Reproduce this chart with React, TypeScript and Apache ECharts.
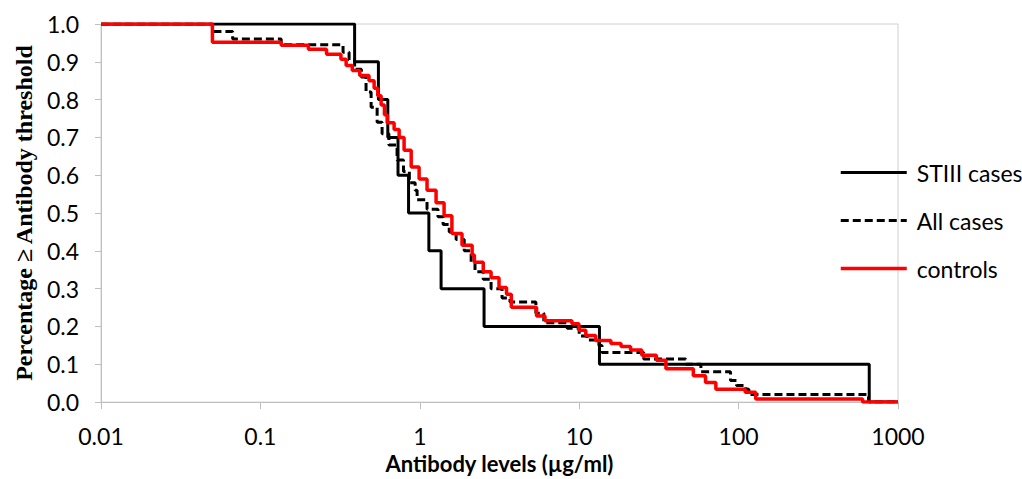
import React, { useEffect, useRef } from "react";
import * as echarts from "echarts";

// STIII cases (step function: level at which fraction drops to the given value)
const stiiiLevels = [0.01, 0.39, 0.55, 0.63, 0.73, 0.85, 1.14, 1.36, 2.53, 13.4, 660, 1000];
const stiiiFractions = [1.0, 0.9, 0.8, 0.7, 0.6, 0.5, 0.4, 0.3, 0.2, 0.1, 0.0, 0.0];

// All cases
const allLevels = [
  0.01, 0.05, 0.067, 0.135, 0.33, 0.36, 0.39, 0.43, 0.46, 0.495, 0.54, 0.58, 0.64, 0.72,
  0.79, 0.86, 0.935, 0.962, 1.11, 1.3, 1.4, 1.53, 1.69, 1.9, 2.1, 2.22, 2.5, 2.8, 3.28,
  3.68, 5.35, 6.0, 8.4, 10, 11.2, 13.3, 13.9, 25.4, 46.6, 58, 89, 97, 111, 116, 653, 1000,
];
const allFractions = [
  1.0, 0.98, 0.96, 0.945, 0.925, 0.905, 0.88, 0.86, 0.82, 0.78, 0.74, 0.71, 0.68, 0.64,
  0.61, 0.58, 0.56, 0.535, 0.51, 0.49, 0.47, 0.45, 0.43, 0.4, 0.37, 0.345, 0.325, 0.3, 0.275,
  0.265, 0.235, 0.21, 0.195, 0.175, 0.164, 0.15, 0.131, 0.114, 0.1, 0.08, 0.057, 0.044, 0.034, 0.02, 0.0, 0.0,
];

// Controls
const controlLevels = [
  0.01, 0.05, 0.135, 0.2, 0.26, 0.32, 0.345, 0.377, 0.42, 0.48, 0.517, 0.545, 0.572, 0.6,
  0.624, 0.69, 0.742, 0.797, 0.883, 0.99, 1.11, 1.265, 1.42, 1.59, 1.84, 2.13, 2.2, 2.5,
  2.8, 3.14, 3.5, 3.75, 5.4, 6.1, 9.0, 9.96, 11.0, 12.7, 15.8, 18.3, 21, 24.7, 30.5, 35,
  52, 62, 72, 110, 128, 600, 1000,
];
const controlFractions = [
  1.0, 0.952, 0.944, 0.933, 0.92, 0.907, 0.89, 0.877, 0.864, 0.85, 0.83, 0.81, 0.786, 0.76,
  0.739, 0.721, 0.7, 0.666, 0.622, 0.59, 0.56, 0.527, 0.493, 0.446, 0.415, 0.389, 0.37, 0.345,
  0.329, 0.303, 0.285, 0.251, 0.228, 0.215, 0.207, 0.19, 0.176, 0.163, 0.155, 0.147, 0.138, 0.124, 0.111, 0.088,
  0.07, 0.052, 0.034, 0.026, 0.008, 0.0, 0.0,
];

const seriesNames = ["STIII cases", "All cases", "controls"];
const yTicks = [0, 0.1, 0.2, 0.3, 0.4, 0.5, 0.6, 0.7, 0.8, 0.9, 1.0];

const zip = (xs: number[], ys: number[]) => xs.map((x, i) => [x, ys[i]]);

export default function App() {
  const ref = useRef<HTMLDivElement>(null);
  useEffect(() => {
    if (!ref.current) return;
    const chart = echarts.init(ref.current, undefined, { renderer: "svg" });
    const gray = "#bfbfbf";
    const sans = "Lato, 'Open Sans', sans-serif";
    chart.setOption({
      animation: false,
      backgroundColor: "#ffffff",
      grid: {
        left: 101,
        right: 124,
        top: 24,
        bottom: 69,
        show: true,
        borderColor: "#d0d0d0",
        borderWidth: 1,
      },
      legend: {
        orient: "vertical",
        left: 834,
        top: 156,
        itemWidth: 66,
        itemHeight: 14,
        itemGap: 25,
        data: seriesNames,
        itemStyle: { opacity: 0 },
        lineStyle: { width: "inherit" },
        textStyle: { fontFamily: sans, fontSize: 23, color: "#000", padding: [0, 0, 0, 5] },
      },
      xAxis: {
        type: "log",
        logBase: 10,
        min: 0.01,
        max: 1000,
        name: "Antibody levels (\u00b5g/ml)",
        nameLocation: "middle",
        nameGap: 46,
        nameTextStyle: { fontFamily: sans, fontSize: 22, fontWeight: "bold", color: "#000" },
        axisLine: { show: true, lineStyle: { color: gray, width: 1 } },
        axisTick: { show: true, inside: false, length: 7, lineStyle: { color: gray } },
        minorTick: { show: false },
        splitLine: { show: false },
        axisLabel: {
          margin: 22,
          fontFamily: sans,
          fontSize: 23,
          color: "#000",
          formatter: (v: number) => String(Number(v.toPrecision(3))),
        },
      },
      yAxis: {
        type: "value",
        min: yTicks[0],
        max: yTicks[yTicks.length - 1],
        interval: 0.1,
        name: "Percentage \u2265 Antibody threshold",
        nameLocation: "middle",
        nameGap: 64,
        nameTextStyle: {
          fontFamily: "'Liberation Serif', 'Times New Roman', serif",
          fontSize: 24,
          fontWeight: "bold",
          color: "#000",
        },
        axisLine: { show: true, lineStyle: { color: gray, width: 1 } },
        axisTick: { show: true, inside: false, length: 6, lineStyle: { color: gray } },
        splitLine: { show: false },
        axisLabel: {
          margin: 22,
          fontFamily: sans,
          fontSize: 23,
          color: "#000",
          formatter: (v: number) => v.toFixed(1),
        },
      },
      series: [
        {
          name: seriesNames[0],
          type: "line",
          step: "end",
          symbol: "none",
          data: zip(stiiiLevels, stiiiFractions),
          lineStyle: { color: "#000000", width: 3 },
          itemStyle: { color: "#000000" },
          z: 2,
        },
        {
          name: seriesNames[1],
          type: "line",
          step: "end",
          symbol: "none",
          data: zip(allLevels, allFractions),
          lineStyle: { color: "#000000", width: 3, type: [8, 4] },
          itemStyle: { color: "#000000" },
          z: 3,
        },
        {
          name: seriesNames[2],
          type: "line",
          step: "end",
          symbol: "none",
          data: zip(controlLevels, controlFractions),
          lineStyle: { color: "#ff0000", width: 3.5 },
          itemStyle: { color: "#ff0000" },
          z: 4,
        },
      ],
    });
    return () => chart.dispose();
  }, []);
  return (
    <div
      ref={ref}
      style={{ position: "absolute", left: 0, top: 0, width: 1022, height: 479 }}
    />
  );
}
